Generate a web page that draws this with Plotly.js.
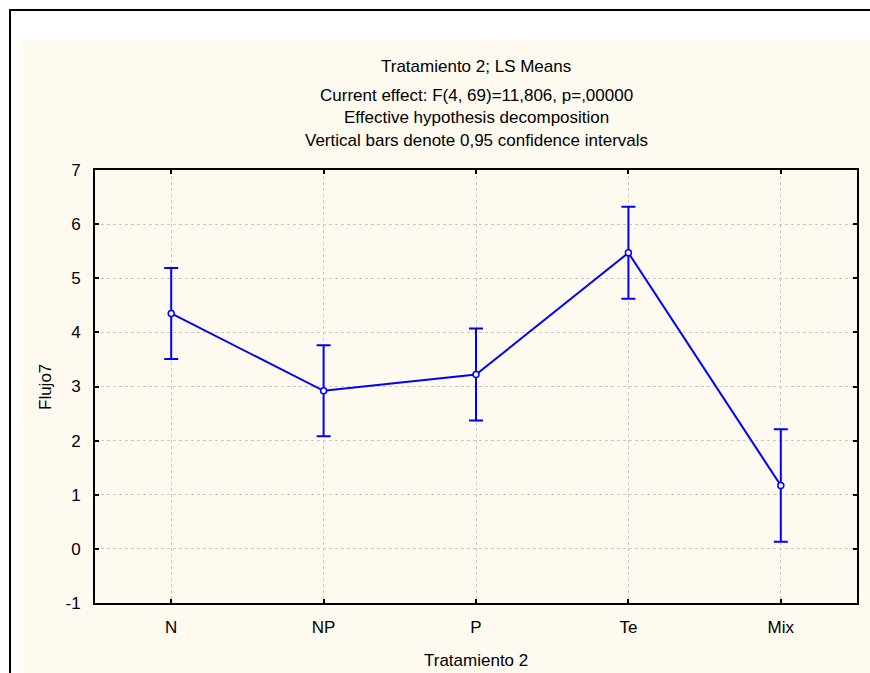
<!DOCTYPE html>
<html>
<head>
<meta charset="utf-8">
<script src="https://cdn.plot.ly/plotly-3.0.1.min.js"></script>
<style>html,body{margin:0;padding:0;background:#fff;overflow:hidden;}#chart{width:870px;height:673px;}.modebar-container{display:none !important;}</style>
</head>
<body>
<div id="chart"></div>
<script>
const categories = ["N", "NP", "P", "Te", "Mix"];
const means = [4.35, 2.92, 3.22, 5.47, 1.17];
const ciHalf = [0.84, 0.84, 0.85, 0.85, 1.04];
const yTicks = [-1, 0, 1, 2, 3, 4, 5, 6, 7];
const titleLines = ["Tratamiento 2; LS Means",
  "Current effect: F(4, 69)=11,806, p=,00000",
  "Effective hypothesis decomposition",
  "Vertical bars denote 0,95 confidence intervals"];
const xTitle = "Tratamiento 2";
const yTitle = "Flujo7";

const W = 870, H = 673;
const mL = 95, mR = 13, mT = 170, mB = 70;
const pw = W - mL - mR, ph = H - mT - mB;
const px = x => (x - mL) / pw;
const py = y => (H - mB - y) / ph;

const FONT = "Liberation Sans, Arial, sans-serif";
const FS = 17;
const f = {family: FONT, size: FS, color: "#000"};

const trace = {
  x: categories,
  y: means,
  type: "scatter",
  mode: "lines+markers",
  line: {color: "#0000ff", width: 2},
  marker: {symbol: "circle", size: 6, color: "#ffffff", line: {color: "#0000ff", width: 1.5}},
  error_y: {type: "data", array: ciHalf, visible: true, color: "#0000ff", thickness: 2, width: 7},
  cliponaxis: false,
  hoverinfo: "none"
};

const textLines = [
  {t: titleLines[0], y: 66}, {t: titleLines[1], y: 96},
  {t: titleLines[2], y: 118}, {t: titleLines[3], y: 141}
];

const layout = {
  width: W, height: H,
  margin: {l: mL, r: mR, t: mT, b: mB},
  paper_bgcolor: "#ffffff",
  plot_bgcolor: "#ffffff",
  showlegend: false,
  font: f,
  xaxis: {
    type: "category",
    range: [-0.5, 4.5],
    showline: true, linecolor: "#000", linewidth: 2, mirror: "ticks",
    ticks: "inside", ticklen: 4, tickcolor: "#000", tickwidth: 2,
    showgrid: true, gridcolor: "#c8c8c8", griddash: "3px,3px", gridwidth: 1,
    tickfont: f,
    ticklabelstandoff: 8,
    zeroline: false,
    fixedrange: true
  },
  yaxis: {
    range: [-1, 7],
    tickvals: yTicks,
    ticktext: yTicks.map(String),
    showline: true, linecolor: "#000", linewidth: 2, mirror: "ticks",
    ticks: "inside", ticklen: 4, tickcolor: "#000", tickwidth: 2,
    showgrid: true, gridcolor: "#c8c8c8", griddash: "3px,3px", gridwidth: 1,
    tickfont: f,
    ticklabelstandoff: 9,
    zeroline: false,
    fixedrange: true
  },
  shapes: [
    {type: "rect", xref: "paper", yref: "paper", layer: "below",
     x0: px(21), x1: px(870), y0: py(673), y1: py(40),
     fillcolor: "#fefaef", line: {width: 0}},
    {type: "line", xref: "paper", yref: "paper", layer: "above",
     x0: px(10), x1: px(10), y0: py(673), y1: py(10),
     line: {color: "#000", width: 2}},
    {type: "line", xref: "paper", yref: "paper", layer: "above",
     x0: px(9), x1: px(870), y0: py(10), y1: py(10),
     line: {color: "#000", width: 2}}
  ],
  annotations: textLines.map(o => ({
    text: o.t, xref: "paper", yref: "paper", x: px(476), y: py(o.y),
    xanchor: "center", yanchor: "middle", showarrow: false, font: f
  })).concat([
    {text: xTitle, xref: "paper", yref: "paper", x: px(476), y: py(660),
     xanchor: "center", yanchor: "middle", showarrow: false, font: f},
    {text: yTitle, xref: "paper", yref: "paper", x: px(45), y: py(387),
     xanchor: "center", yanchor: "middle", showarrow: false, font: f, textangle: -90}
  ])
};

Plotly.newPlot("chart", [trace], layout, {displayModeBar: false, staticPlot: true});
</script>
</body>
</html>
